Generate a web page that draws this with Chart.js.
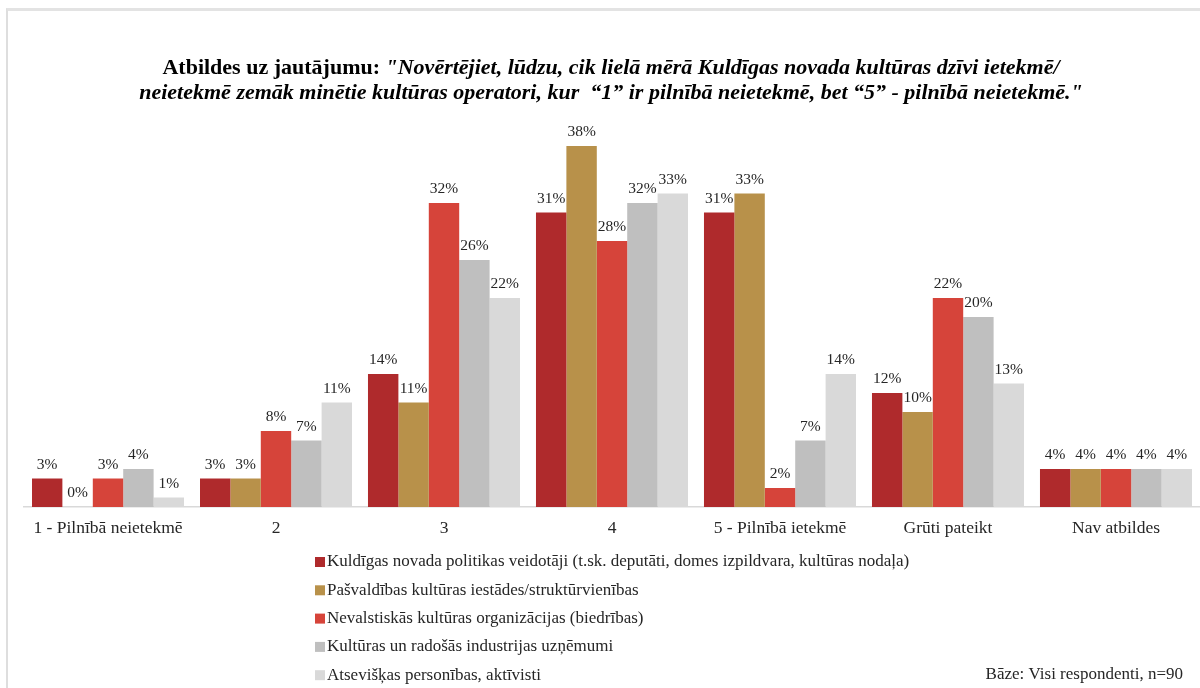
<!DOCTYPE html>
<html>
<head>
<meta charset="utf-8">
<script src="https://cdn.jsdelivr.net/npm/chart.js@4"></script>
<style>
  html, body { margin: 0; padding: 0; background: #fff; }
  #wrap { position: relative; width: 1200px; height: 688px; overflow: hidden; }
  #frame { position: absolute; left: 6px; top: 8px; width: 1210px; height: 700px;
           border-left: 2px solid #dedede; border-top: 3px solid #e3e3e3; }
  canvas { position: absolute; left: 0; top: 0; }
</style>
</head>
<body>
<div id="wrap">
  <div id="frame"></div>
  <canvas id="chart" width="1200" height="688"></canvas>
</div>
<script>
const categories = ['1 - Pilnībā neietekmē', '2', '3', '4', '5 - Pilnībā ietekmē', 'Grūti pateikt', 'Nav atbildes'];

const seriesNames = [
    'Kuldīgas novada politikas veidotāji (t.sk. deputāti, domes izpildvara, kultūras nodaļa)',
    'Pašvaldības kultūras iestādes/struktūrvienības',
    'Nevalstiskās kultūras organizācijas (biedrības)',
    'Kultūras un radošās industrijas uzņēmumi',
    'Atsevišķas personības, aktīvisti'
];

const politikasVeidotaji = [3, 3, 14, 31, 31, 12, 4];
const pasvaldibasIestades = [0, 3, 11, 38, 33, 10, 4];
const nevalstiskas = [3, 8, 32, 28, 2, 22, 4];
const industrijas = [4, 7, 26, 32, 7, 20, 4];
const personibas = [1, 11, 22, 33, 14, 13, 4];

const colors = ['#AF2A2C', '#B8914A', '#D6443A', '#BFBFBF', '#D9D9D9'];

const titleBold = 'Atbildes uz jautājumu: ';
const titleLine1 = '"Novērtējiet, lūdzu, cik lielā mērā Kuldīgas novada kultūras dzīvi ietekmē/';
const titleLine2 = 'neietekmē zemāk minētie kultūras operatori, kur  “1” ir pilnībā neietekmē, bet “5” - pilnībā neietekmē."';
const baseNote = 'Bāze: Visi respondenti, n=90';

const serif = "'Liberation Serif', 'Times New Roman', serif";

// percent labels above each bar
const valueLabels = {
    id: 'valueLabels',
    afterDatasetsDraw(chart) {
        const ctx = chart.ctx;
        ctx.save();
        ctx.font = '15.5px ' + serif;
        ctx.fillStyle = '#262626';
        ctx.textAlign = 'center';
        ctx.textBaseline = 'alphabetic';
        chart.data.datasets.forEach((ds, i) => {
            chart.getDatasetMeta(i).data.forEach((bar, j) => {
                ctx.fillText(ds.data[j] + '%', bar.x, bar.y - 10);
            });
        });
        ctx.restore();
    }
};

// title with bold + bold italic parts
const mixedTitle = {
    id: 'mixedTitle',
    afterDraw(chart) {
        const ctx = chart.ctx;
        const cx = 611;
        ctx.save();
        ctx.fillStyle = '#000';
        ctx.textBaseline = 'middle';
        ctx.textAlign = 'left';
        const fBold = 'bold 22px ' + serif;
        const fItal = 'italic bold 22px ' + serif;
        ctx.font = fBold;
        const w1 = ctx.measureText(titleBold).width;
        ctx.font = fItal;
        const w2 = ctx.measureText(titleLine1).width;
        let x = cx - (w1 + w2) / 2;
        ctx.font = fBold;
        ctx.fillText(titleBold, x, 68);
        ctx.font = fItal;
        ctx.fillText(titleLine1, x + w1, 68);
        ctx.textAlign = 'center';
        ctx.fillText(titleLine2, cx, 93);
        ctx.restore();
    }
};

// vertical legend under the axis and the base note
const listLegend = {
    id: 'listLegend',
    afterDraw(chart) {
        const ctx = chart.ctx;
        ctx.save();
        ctx.font = '17px ' + serif;
        ctx.textBaseline = 'middle';
        ctx.textAlign = 'left';
        chart.data.datasets.forEach((ds, i) => {
            const y = 562 + i * 28.3;
            ctx.fillStyle = ds.backgroundColor;
            ctx.fillRect(315, y - 5, 10, 10);
            ctx.fillStyle = '#262626';
            ctx.fillText(ds.label, 327, y);
        });
        ctx.textAlign = 'right';
        ctx.fillText(baseNote, 1183, 675);
        ctx.restore();
    }
};

const seriesData = [politikasVeidotaji, pasvaldibasIestades, nevalstiskas, industrijas, personibas];

new Chart(document.getElementById('chart'), {
    type: 'bar',
    data: {
        labels: categories,
        datasets: seriesData.map((d, i) => ({
            label: seriesNames[i],
            data: d,
            backgroundColor: colors[i],
            borderWidth: 0,
            categoryPercentage: 0.905,
            barPercentage: 1.0
        }))
    },
    options: {
        responsive: false,
        animation: false,
        devicePixelRatio: 1,
        layout: { padding: { top: 127, left: 24, right: 0, bottom: 138 } },
        plugins: {
            legend: { display: false },
            title: { display: false },
            tooltip: { enabled: false }
        },
        scales: {
            x: {
                grid: { display: false, drawTicks: false },
                border: { display: true, color: '#d9d9d9', width: 1.5 },
                ticks: { color: '#262626', font: { family: serif, size: 17.5 }, padding: 11, maxRotation: 0, autoSkip: false }
            },
            y: {
                display: false,
                min: 0,
                max: 40
            }
        }
    },
    plugins: [valueLabels, mixedTitle, listLegend]
});
</script>
</body>
</html>
